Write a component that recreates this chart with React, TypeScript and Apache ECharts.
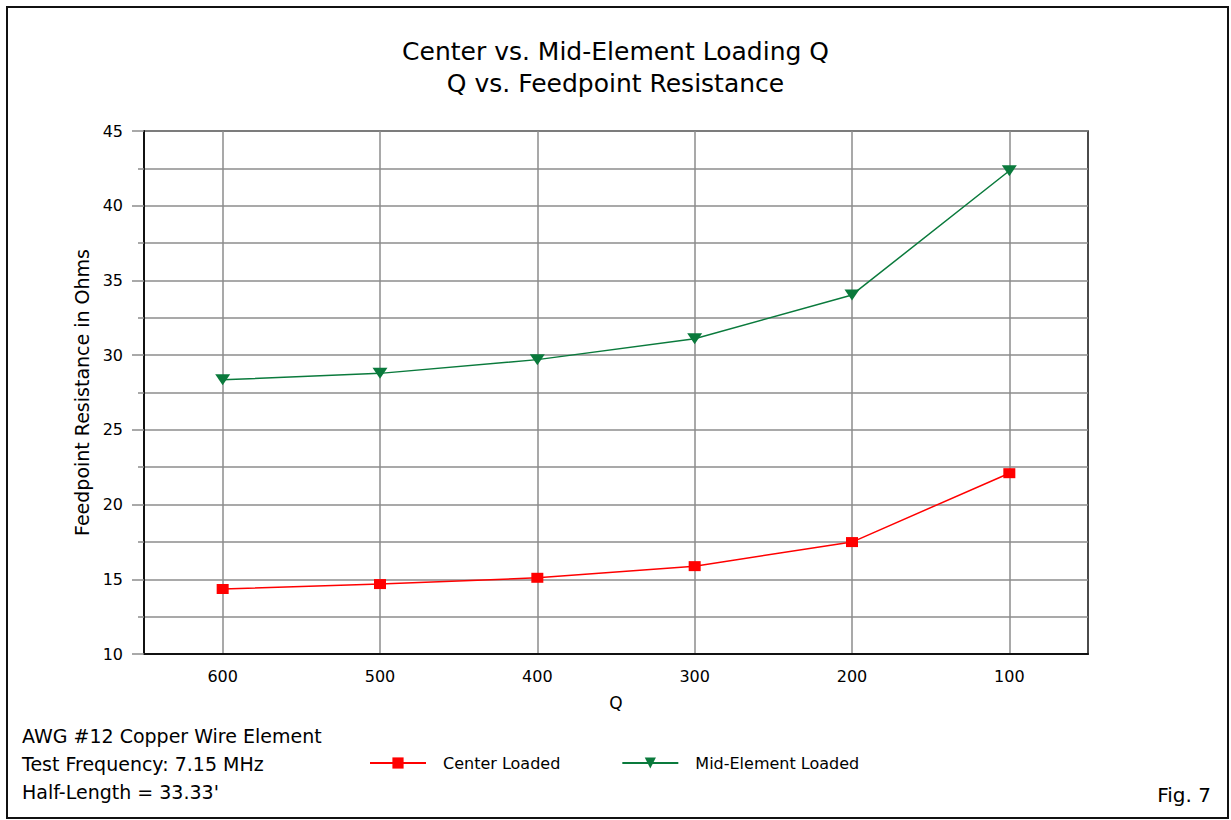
import React, { useEffect, useRef } from "react";
import * as echarts from "echarts";

const categories = ["600", "500", "400", "300", "200", "100"];
const centerLoaded = [14.35, 14.68, 15.1, 15.88, 17.49, 22.1];
const midElementLoaded = [28.35, 28.78, 29.7, 31.1, 34.03, 42.34];
const seriesNames = ["Center Loaded", "Mid-Element Loaded"];
const titleLines = ["Center vs. Mid-Element Loading Q", "Q vs. Feedpoint Resistance"];
const noteLines = ["AWG #12 Copper Wire Element", "Test Frequency: 7.15 MHz", "Half-Length = 33.33'"];
const figLabel = "Fig. 7";
const yMin = 10;
const yMax = 45;
const yInterval = 5;

const FONT = "DejaVu Sans";

export default function App() {
  const ref = useRef<HTMLDivElement>(null);

  useEffect(() => {
    document.body.style.margin = "0";
    const chart = echarts.init(ref.current!, null, { renderer: "svg" });
    const gridColor = "#8c8c8c";
    chart.setOption({
      animation: false,
      backgroundColor: "#ffffff",
      title: {
        text: titleLines.join("\n"),
        left: "center",
        top: 30,
        textStyle: {
          fontFamily: FONT,
          fontSize: 25,
          fontWeight: "normal",
          color: "#000",
          lineHeight: 32,
        },
      },
      legend: {
        left: 369,
        top: 755,
        padding: 0,
        itemWidth: 56,
        itemHeight: 14,
        itemGap: 61,
        textStyle: {
          fontFamily: FONT,
          fontSize: 16,
          color: "#000",
          padding: [0, 0, 0, 12],
        },
        data: seriesNames,
      },
      grid: {
        left: 144,
        top: 131,
        right: 143,
        bottom: 166,
        show: true,
        borderColor: "#111",
        borderWidth: 1.5,
      },
      xAxis: {
        type: "category",
        data: categories,
        boundaryGap: true,
        name: "Q",
        nameLocation: "middle",
        nameGap: 40,
        nameTextStyle: { fontFamily: FONT, fontSize: 17, color: "#000" },
        axisLine: { lineStyle: { color: "#111", width: 2 } },
        axisTick: { show: false },
        axisLabel: { fontFamily: FONT, fontSize: 16, color: "#000", margin: 14 },
        splitLine: {
          show: true,
          alignWithLabel: true,
          lineStyle: { color: gridColor, width: 1.5 },
        },
      },
      yAxis: {
        type: "value",
        min: yMin,
        max: yMax,
        interval: yInterval,
        name: "Feedpoint Resistance in Ohms",
        nameLocation: "middle",
        nameGap: 46,
        nameTextStyle: { fontFamily: FONT, fontSize: 19, color: "#000" },
        axisLine: { show: true, lineStyle: { color: "#111", width: 2 } },
        axisTick: { show: true, length: 12, lineStyle: { color: gridColor, width: 1.5 } },
        minorTick: { show: true, splitNumber: 2, length: 6, lineStyle: { color: gridColor, width: 1.5 } },
        axisLabel: { fontFamily: FONT, fontSize: 16, color: "#000", margin: 21 },
        splitLine: { show: true, lineStyle: { color: gridColor, width: 1.5 } },
        minorSplitLine: { show: true, lineStyle: { color: gridColor, width: 1.5 } },
      },
      series: [
        {
          name: seriesNames[0],
          type: "line",
          data: centerLoaded,
          symbol: "rect",
          symbolSize: [12, 10],
          showAllSymbol: true,
          itemStyle: { color: "#ff0000" },
          lineStyle: { color: "#ff0000", width: 1.5 },
          z: 3,
        },
        {
          name: seriesNames[1],
          type: "line",
          data: midElementLoaded,
          symbol: "triangle",
          symbolRotate: 180,
          symbolSize: [15, 11],
          showAllSymbol: true,
          itemStyle: { color: "#0a7a3c" },
          lineStyle: { color: "#0a7a3c", width: 1.5 },
          z: 3,
        },
      ],
      graphic: [
        {
          type: "rect",
          shape: { x: 7, y: 7, width: 1221, height: 811 },
          style: { fill: "none", stroke: "#111", lineWidth: 2 },
          silent: true,
        },
        ...noteLines.map((t, i) => ({
          type: "text",
          left: 22,
          top: 726 + i * 28,
          style: { text: t, fontFamily: FONT, fontSize: 19, fill: "#000" },
          silent: true,
        })),
        {
          type: "text",
          right: 20,
          top: 785,
          style: { text: figLabel, fontFamily: FONT, fontSize: 20, fill: "#000" },
          silent: true,
        },
      ],
    });
    return () => chart.dispose();
  }, []);

  return (
    <div
      ref={ref}
      style={{ position: "fixed", left: 0, top: 0, width: 1231, height: 820 }}
    />
  );
}
